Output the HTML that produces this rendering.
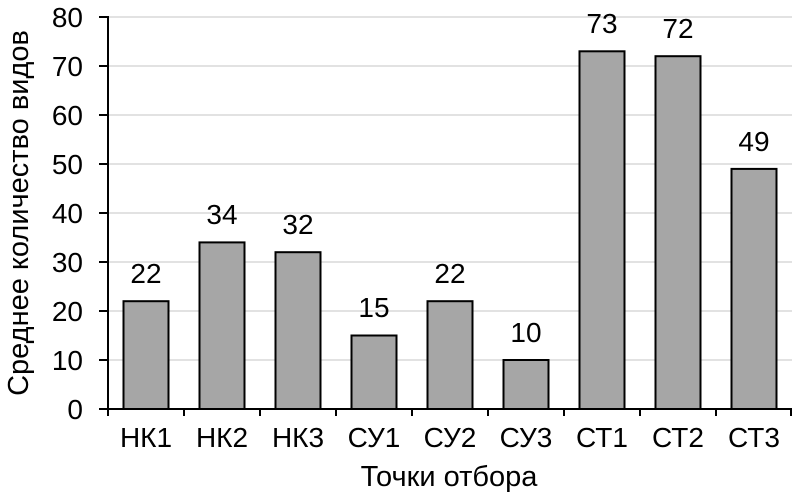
<!DOCTYPE html><html><head><style>body{margin:0;background:#fff}</style></head><body>
<svg width="792" height="496" xmlns="http://www.w3.org/2000/svg" font-family="Liberation Sans, Arial, sans-serif">
<g stroke="#d9d9d9" stroke-width="1.5">
<line x1="108" x2="792" y1="360" y2="360"/><line x1="108" x2="792" y1="311" y2="311"/><line x1="108" x2="792" y1="262" y2="262"/><line x1="108" x2="792" y1="213" y2="213"/><line x1="108" x2="792" y1="164" y2="164"/><line x1="108" x2="792" y1="115" y2="115"/><line x1="108" x2="792" y1="66" y2="66"/><line x1="108" x2="792" y1="17" y2="17"/>
</g>
<g fill="#a6a6a6" stroke="#000" stroke-width="2">
<rect x="123.5" y="301.2" width="45" height="107.8"/>
<rect x="199.5" y="242.4" width="45" height="166.6"/>
<rect x="275.5" y="252.2" width="45" height="156.8"/>
<rect x="351.5" y="335.5" width="45" height="73.5"/>
<rect x="427.5" y="301.2" width="45" height="107.8"/>
<rect x="503.5" y="360" width="45" height="49"/>
<rect x="579.5" y="51.3" width="45" height="357.7"/>
<rect x="655.5" y="56.2" width="45" height="352.8"/>
<rect x="731.5" y="168.9" width="45" height="240.1"/>
</g>
<g stroke="#000" stroke-width="2">
<line x1="108" y1="16" x2="108" y2="416"/><line x1="99" y1="409" x2="792" y2="409"/>
<line x1="99" x2="108" y1="360" y2="360"/><line x1="99" x2="108" y1="311" y2="311"/><line x1="99" x2="108" y1="262" y2="262"/><line x1="99" x2="108" y1="213" y2="213"/><line x1="99" x2="108" y1="164" y2="164"/><line x1="99" x2="108" y1="115" y2="115"/><line x1="99" x2="108" y1="66" y2="66"/><line x1="99" x2="108" y1="17" y2="17"/>
<line x1="184" x2="184" y1="409" y2="416"/><line x1="260" x2="260" y1="409" y2="416"/><line x1="336" x2="336" y1="409" y2="416"/><line x1="412" x2="412" y1="409" y2="416"/><line x1="488" x2="488" y1="409" y2="416"/><line x1="564" x2="564" y1="409" y2="416"/><line x1="640" x2="640" y1="409" y2="416"/><line x1="716" x2="716" y1="409" y2="416"/><line x1="791" x2="791" y1="409" y2="416"/>
</g>
<g font-size="28" text-anchor="end" fill="#000">
<text x="83" y="419">0</text><text x="83" y="370">10</text><text x="83" y="321">20</text><text x="83" y="272">30</text><text x="83" y="223">40</text><text x="83" y="174">50</text><text x="83" y="125">60</text><text x="83" y="76">70</text><text x="83" y="27">80</text>
</g>
<g font-size="28" text-anchor="middle" fill="#000">
<text x="146" y="447">НК1</text><text x="222" y="447">НК2</text><text x="298" y="447">НК3</text><text x="374" y="447">СУ1</text><text x="450" y="447">СУ2</text><text x="526" y="447">СУ3</text><text x="602" y="447">СТ1</text><text x="678" y="447">СТ2</text><text x="754" y="447">СТ3</text>
<text x="146" y="283">22</text><text x="222" y="224">34</text><text x="298" y="234">32</text><text x="374" y="317">15</text><text x="450" y="283">22</text><text x="526" y="342">10</text><text x="602" y="33">73</text><text x="678" y="38">72</text><text x="754" y="151">49</text>
</g>
<g font-size="29" text-anchor="middle" fill="#000">
<text x="449" y="486">Точки отбора</text>
<text transform="translate(28,213) rotate(-90)">Среднее количество видов</text>
</g>
</svg></body></html>
